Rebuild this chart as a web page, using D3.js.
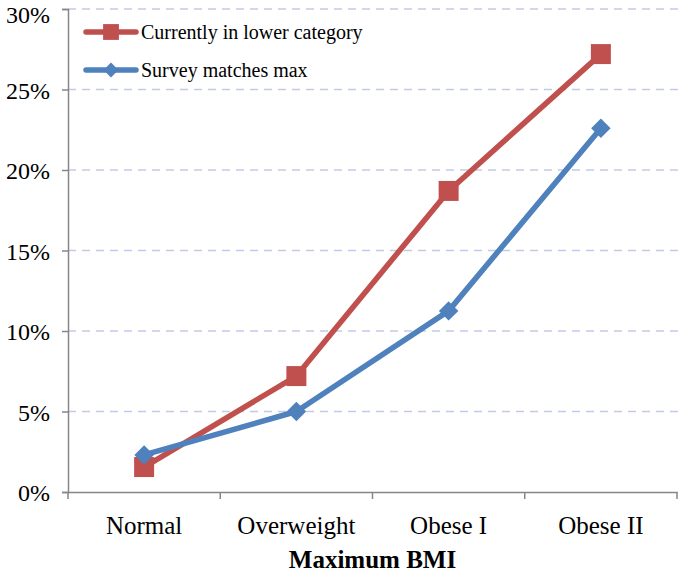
<!DOCTYPE html>
<html><head><meta charset="utf-8">
<script src="https://cdn.jsdelivr.net/npm/d3@7/dist/d3.min.js"></script>
<style>body{margin:0;background:#fff}svg{display:block}</style>
</head><body><svg id="c" width="680" height="575"></svg>
<script>
const categories = ["Normal", "Overweight", "Obese I", "Obese II"];
const seriesNames = ["Currently in lower category", "Survey matches max"];
const lowerCategory = [1.55, 7.2, 18.7, 27.2];
const surveyMatches = [2.3, 5.0, 11.25, 22.6];
const yTicks = [0, 5, 10, 15, 20, 25, 30];
const xTitle = "Maximum BMI";

const svg = d3.select("#c");
const m = {l: 68, r: 3, t: 9, b: 83};
const W = 680, H = 575;
const x = d3.scaleBand().domain(categories).range([m.l, W - m.r]);
const y = d3.scaleLinear().domain([0, 30]).range([H - m.b, m.t]);
const font = "'Liberation Serif','Times New Roman',serif";

// gridlines
svg.append("g").selectAll("line").data(yTicks.filter(d => d > 0)).join("line")
  .attr("x1", m.l).attr("x2", W).attr("y1", d => y(d)).attr("y2", d => y(d))
  .attr("stroke", "#c3cae8").attr("stroke-width", 1.5).attr("stroke-dasharray", "8,6");

// y axis
const ya = svg.append("g").attr("transform", `translate(${m.l},0)`)
  .call(d3.axisLeft(y).tickValues(yTicks).tickFormat(d => d + "%").tickSize(6).tickPadding(12));
ya.select(".domain").attr("stroke", "#868686").attr("stroke-width", 1.5);
ya.selectAll(".tick line").attr("stroke", "#868686").attr("stroke-width", 1.5);
ya.selectAll("text").attr("font-family", font).attr("font-size", 24).attr("fill", "#000")
  .attr("dy", "0.36em").attr("y", d => d === 30 ? 5 : 0);

// x axis
const xa = svg.append("g").attr("transform", `translate(0,${y(0)})`)
  .call(d3.axisBottom(x).tickSize(0).tickPadding(24));
xa.select(".domain").attr("stroke", "#868686").attr("stroke-width", 1.5);
xa.selectAll("text").attr("font-family", font).attr("font-size", 25).attr("fill", "#000");
const bounds = categories.map(c => x(c)).concat([x(categories[categories.length - 1]) + x.bandwidth()]);
xa.append("g").selectAll("line").data(bounds).join("line")
  .attr("x1", d => d).attr("x2", d => d).attr("y1", 0).attr("y2", 7)
  .attr("stroke", "#868686").attr("stroke-width", 1.5);

svg.append("text").attr("x", x("Overweight") + x.bandwidth()).attr("y", 568)
  .attr("text-anchor", "middle").attr("font-family", font).attr("font-size", 25)
  .attr("font-weight", "bold").text(xTitle);

const cx = c => x(c) + x.bandwidth() / 2;
const line = d3.line().x((d, i) => cx(categories[i])).y(d => y(d));
const colors = ["#c0504d", "#4f81bd"];
const sq = d3.symbol().type(d3.symbolSquare).size(400);
const dm = d3.symbol().type(d3.symbolSquare).size(190);

[[lowerCategory, sq, 0], [surveyMatches, dm, 45]].forEach(([vals, sym, rot], k) => {
  svg.append("path").attr("d", line(vals)).attr("fill", "none")
    .attr("stroke", colors[k]).attr("stroke-width", 5.5).attr("stroke-linejoin", "round");
  svg.append("g").selectAll("path").data(vals).join("path")
    .attr("d", sym).attr("fill", colors[k])
    .attr("transform", (d, i) => `translate(${cx(categories[i])},${y(d)}) rotate(${rot})`);
});

// legend
const legY = [32, 70];
const legSym = [d3.symbol().type(d3.symbolSquare).size(250), d3.symbol().type(d3.symbolSquare).size(110)];
seriesNames.forEach((n, k) => {
  const g = svg.append("g").attr("transform", `translate(0,${legY[k]})`);
  g.append("line").attr("x1", 86).attr("x2", 136).attr("y1", 0).attr("y2", 0)
    .attr("stroke", colors[k]).attr("stroke-width", 5.5).attr("stroke-linecap", "round");
  g.append("path").attr("d", legSym[k]).attr("fill", colors[k])
    .attr("transform", `translate(111,0) rotate(${k ? 45 : 0})`);
  g.append("text").attr("x", 141).attr("y", 7).attr("font-family", font).attr("font-size", 20).text(n);
});
</script></body></html>
